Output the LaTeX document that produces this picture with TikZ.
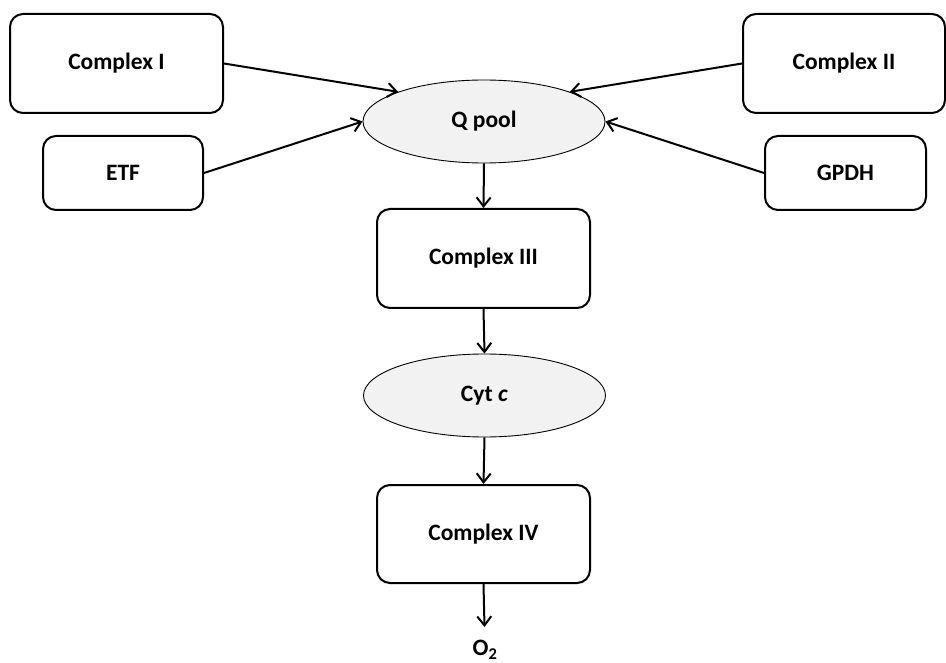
\documentclass[tikz,border=0pt]{standalone}
\usepackage{fontspec}
\setmainfont{Carlito}
\usetikzlibrary{arrows.meta,shapes.geometric}
\definecolor{poolgray}{HTML}{F2F2F2}
\begin{document}
\begin{tikzpicture}[x=1pt,y=-1pt,
  box/.style={draw, line width=2pt, rounded corners=13pt, inner sep=0pt,
    font=\fontsize{23.5}{28}\selectfont\bfseries},
  pool/.style={ellipse, draw, line width=0.9pt, fill=poolgray, inner sep=0pt,
    minimum width=242pt, minimum height=83pt, font=\fontsize{23.5}{28}\selectfont\bfseries},
  flow/.style={line width=2pt, -{Straight Barb[length=9pt,width=14pt,line width=2pt]}}]
\useasboundingbox (0,0) rectangle (946,663);
\node[box, minimum width=213pt, minimum height=99pt] (c1) at (116.5,63.5) {Complex I};
\node[box, minimum width=202pt, minimum height=99pt] (c2) at (844,63.5) {Complex II};
\node[box, minimum width=160pt, minimum height=74pt] (etf) at (123,173) {ETF};
\node[box, minimum width=161pt, minimum height=74pt] (gpdh) at (845.5,173) {GPDH};
\node[pool] (q) at (484,121.5) {Q pool};
\node[box, minimum width=213pt, minimum height=99pt] (c3) at (483.5,258.5) {Complex III};
\node[pool] (cyt) at (484.5,395.5) {Cyt \textit{c}};
\node[box, minimum width=213pt, minimum height=98pt] (c4) at (483.5,534) {Complex IV};
\node[font=\fontsize{23.5}{28}\selectfont\bfseries, inner sep=0pt] (o2) at (485,650) {O$_{\mathbf{2}}$};
\coordinate (o2top) at (484.5,627);
\draw[flow] (c1.east) -- (q.north west);
\draw[flow] (c2.west) -- (q.north east);
\draw[flow] (etf.east) -- (q.west);
\draw[flow] (gpdh.west) -- (q.east);
\draw[flow] (q.south) -- (c3.north);
\draw[flow] (c3.south) -- (cyt.north);
\draw[flow] (cyt.south) -- (c4.north);
\draw[flow] (c4.south) -- (o2top);
\end{tikzpicture}
\end{document}
